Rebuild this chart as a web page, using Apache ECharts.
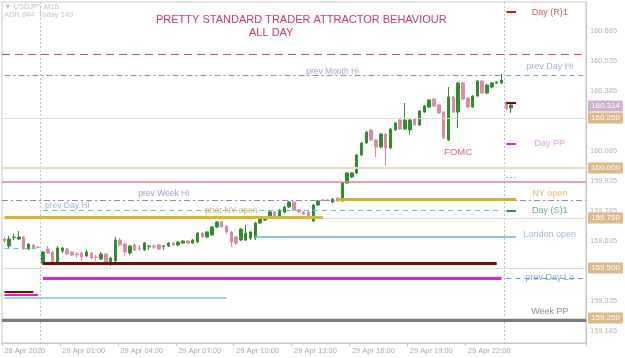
<!DOCTYPE html>
<html>
<head>
<meta charset="utf-8">
<script src="https://cdn.jsdelivr.net/npm/echarts@6/dist/echarts.min.js"></script>
<style>
  html, body { margin: 0; padding: 0; background: #fff; }
  #main { width: 625px; height: 358px; }
</style>
</head>
<body>
<div id="main"></div>
<script>
// USDJPY M15, 28 Apr 22:00 -> 30 Apr 00:15 (one bar per category)
const opens = [
  159.645, 159.61, 159.652, 159.645, 159.655, 159.595, 159.615, 159.605,
  159.525, 159.595, 159.58, 159.53, 159.585, 159.595, 159.58, 159.57,
  159.575, 159.56, 159.575, 159.555, 159.545, 159.57, 159.525, 159.535,
  159.64, 159.62, 159.575, 159.615, 159.60, 159.59, 159.607, 159.61,
  159.615, 159.607, 159.61, 159.625, 159.615, 159.625, 159.635, 159.625,
  159.63, 159.675, 159.655, 159.665, 159.705, 159.73, 159.71, 159.68,
  159.655, 159.64, 159.64, 159.65, 159.65, 159.725, 159.74, 159.75,
  159.78, 159.755, 159.78, 159.805, 159.83, 159.79, 159.78, 159.78,
  159.735, 159.815, 159.84, 159.84, 159.83, 159.85, 159.835, 159.925,
  159.955, 159.975, 160.065, 160.125, 160.19, 160.14, 160.105, 160.17,
  160.10, 160.19, 160.24, 160.195, 160.19, 160.245, 160.215, 160.28,
  160.305, 160.345, 160.315, 160.28, 160.14, 160.355, 160.28, 160.425,
  160.35, 160.305, 160.36, 160.435, 160.375, 160.405, 160.425, 160.425,
  160.33, 160.30
]
const closes = [
  159.635, 159.645, 159.655, 159.655, 159.595, 159.62, 159.60, 159.602,
  159.58, 159.575, 159.53, 159.60, 159.60, 159.57, 159.565, 159.567,
  159.555, 159.58, 159.55, 159.552, 159.57, 159.53, 159.55, 159.64,
  159.615, 159.58, 159.61, 159.59, 159.597, 159.625, 159.61, 159.605,
  159.595, 159.61, 159.625, 159.615, 159.63, 159.635, 159.625, 159.64,
  159.675, 159.655, 159.68, 159.705, 159.73, 159.705, 159.68, 159.63,
  159.625, 159.695, 159.675, 159.68, 159.725, 159.75, 159.755, 159.78,
  159.76, 159.79, 159.805, 159.83, 159.79, 159.78, 159.77, 159.75,
  159.815, 159.835, 159.838, 159.838, 159.845, 159.835, 159.925, 159.975,
  159.975, 160.065, 160.125, 160.18, 160.14, 160.105, 160.17, 160.10,
  160.195, 160.225, 160.195, 160.24, 160.24, 160.215, 160.285, 160.31,
  160.34, 160.31, 160.275, 160.15, 160.355, 160.28, 160.425, 160.345,
  160.305, 160.36, 160.435, 160.375, 160.415, 160.425, 160.43, 160.44,
  160.295, 160.315
]
const lows = [
  159.625, 159.60, 159.64, 159.64, 159.59, 159.59, 159.595, 159.60,
  159.515, 159.57, 159.515, 159.515, 159.575, 159.565, 159.56, 159.55,
  159.535, 159.555, 159.545, 159.535, 159.54, 159.52, 159.51, 159.53,
  159.61, 159.56, 159.565, 159.585, 159.585, 159.585, 159.59, 159.595,
  159.59, 159.59, 159.605, 159.61, 159.61, 159.62, 159.62, 159.62,
  159.625, 159.65, 159.65, 159.66, 159.70, 159.70, 159.67, 159.605,
  159.615, 159.635, 159.635, 159.64, 159.64, 159.72, 159.735, 159.745,
  159.755, 159.75, 159.775, 159.80, 159.785, 159.775, 159.765, 159.74,
  159.73, 159.81, 159.83, 159.835, 159.825, 159.83, 159.83, 159.92,
  159.95, 159.97, 160.06, 160.12, 160.135, 160.055, 160.10, 160.01,
  160.095, 160.185, 160.19, 160.19, 160.165, 160.21, 160.21, 160.275,
  160.30, 160.305, 160.27, 160.145, 160.135, 160.275, 160.20, 160.34,
  160.30, 160.30, 160.355, 160.37, 160.37, 160.40, 160.42, 160.42,
  160.29, 160.275
]
const highs = [
  159.655, 159.66, 159.67, 159.685, 159.66, 159.625, 159.62, 159.61,
  159.585, 159.61, 159.59, 159.61, 159.605, 159.60, 159.585, 159.58,
  159.58, 159.59, 159.58, 159.565, 159.58, 159.575, 159.555, 159.655,
  159.65, 159.63, 159.615, 159.625, 159.615, 159.63, 159.615, 159.62,
  159.62, 159.615, 159.63, 159.63, 159.635, 159.64, 159.64, 159.645,
  159.68, 159.68, 159.685, 159.71, 159.735, 159.735, 159.715, 159.685,
  159.66, 159.70, 159.715, 159.685, 159.73, 159.755, 159.76, 159.785,
  159.785, 159.795, 159.81, 159.835, 159.835, 159.795, 159.785, 159.785,
  159.82, 159.84, 159.845, 159.845, 159.85, 159.855, 159.93, 159.98,
  159.98, 160.07, 160.13, 160.185, 160.195, 160.145, 160.175, 160.175,
  160.20, 160.23, 160.245, 160.325, 160.245, 160.25, 160.29, 160.315,
  160.345, 160.35, 160.32, 160.285, 160.405, 160.36, 160.43, 160.43,
  160.355, 160.365, 160.44, 160.44, 160.42, 160.43, 160.435, 160.47,
  160.335, 160.325
]

// the chart keeps 15 empty bars on the right (shift)
const barCount = 121
const pad = (n) => (n < 10 ? '0' : '') + n
const categories = []
for (let i = 0; i < barCount; i++) {
  const m = 22 * 60 + i * 15
  const mm = m % 1440
  categories.push((28 + Math.floor(m / 1440)) + ' Apr ' + pad(Math.floor(mm / 60)) + ':' + pad(mm % 60))
}
const firstTickLabel = '28 Apr 2020'

const yLabels = [159.185, 159.335, 159.635, 159.785, 159.935, 160.085, 160.385, 160.535, 160.685]
const priceTags = [160.25, 160.0, 159.75, 159.5, 159.25]
const lastPrice = 160.314

// [key, price, first bar, last bar]  null = whole width
const levels = [
  ['redDash', 160.575, null, null],
  ['khaki', 160.25, null, null],
  ['khaki2', 160.0, null, null],
  ['salmon', 159.925, null, null],
  ['prevWeekHi', 159.84, null, null],
  ['khaki', 159.75, null, null],
  ['khaki', 159.5, null, null],
  ['khaki', 159.25, null, null],
  ['weekPP', 159.243, null, null],
  ['dayR1', 160.78, 104, 106],
  ['prevMonthHi', 160.465, 0, 103],
  ['prevDayHiNew', 160.465, 104, 120],
  ['lastMark', 160.325, 104, 106],
  ['dayPP', 160.12, 104, 106],
  ['dotGray', 159.955, 104, 106],
  ['nyOpen', 159.842, 69, 106],
  ['prevDayHi', 159.79, 8, 103],
  ['dayS1', 159.785, 104, 106],
  ['priorNyOpen', 159.752, 0, 66],
  ['londonOpen', 159.655, 52, 106],
  ['maroon', 159.525, 8, 102],
  ['magenta', 159.45, 8, 103],
  ['prevDayLo', 159.45, 104, 120],
  ['prevDayHi', 159.60, 0, 7],
  ['maroonOld', 159.38, 0, 6],
  ['magentaOld', 159.367, 0, 7],
  ['londonOld', 159.352, 0, 46]
]

const levelStyle = {
  redDash: { color: '#d2456a', width: 1, type: [8, 5] },
  khaki: { color: '#e4dfc2', width: 1, type: 'solid' },
  khaki2: { color: '#e4dfc2', width: 2, type: 'solid' },
  salmon: { color: '#e2838a', width: 1.5, type: 'solid' },
  prevWeekHi: { color: '#a77ac8', width: 1, type: [6, 3, 2, 3] },
  weekPP: { color: '#7a7a7a', width: 3, type: 'solid' },
  dayR1: { color: '#d01818', width: 2, type: 'solid' },
  prevMonthHi: { color: '#8c8c9c', width: 1, type: [6, 3, 2, 3] },
  prevDayHiNew: { color: '#48b8c8', width: 1, type: [5, 4] },
  lastMark: { color: '#8b0000', width: 2, type: 'solid' },
  dayPP: { color: '#e020d0', width: 2, type: 'solid' },
  dotGray: { color: '#aaaaaa', width: 1, type: [2, 2] },
  nyOpen: { color: '#d4b030', width: 3, type: 'solid' },
  prevDayHi: { color: '#5cc8c8', width: 1, type: [5, 4] },
  dayS1: { color: '#2a8a70', width: 2, type: 'solid' },
  priorNyOpen: { color: '#d8b440', width: 3, type: 'solid' },
  londonOpen: { color: '#86c6e6', width: 2, type: 'solid' },
  maroon: { color: '#7a0a0a', width: 3, type: 'solid' },
  magenta: { color: '#e01ee0', width: 3, type: 'solid' },
  prevDayLo: { color: '#58a0d8', width: 1, type: [5, 4] },
  maroonOld: { color: '#7a0a0a', width: 2, type: 'solid' },
  magentaOld: { color: '#e01ee0', width: 2, type: 'solid' },
  londonOld: { color: '#9cd0ea', width: 2, type: 'solid' }
}

// text notes: name, bar, price
const noteNames = ['prev Month Hi', 'prev Week Hi', 'prev Day Hi', 'prior NY open', 'FOMC',
  'Day (R)1', 'prev Day Hi ', 'Day PP', 'NY open', 'Day (S)1', 'London open', 'prev Day Lo', 'Week PP']
const noteBars = [68, 33, 13, 47, 94, 113, 113, 113, 113, 113, 113, 113, 113]
const notePrices = [160.48, 159.87, 159.81, 159.785, 160.08,
  160.775, 160.505, 160.12, 159.87, 159.785, 159.665, 159.45, 159.28]

const noteColor = {
  'prev Month Hi': '#8c8cc0', 'prev Week Hi': '#9080c0', 'prev Day Hi': '#7fa8d8',
  'prior NY open': '#c8a040', 'FOMC': '#c83c64', 'Day (R)1': '#d03030',
  'prev Day Hi ': '#80a0d0', 'Day PP': '#d880d8', 'NY open': '#d0b040',
  'Day (S)1': '#3a9a78', 'London open': '#80a8d8', 'prev Day Lo': '#6090d0', 'Week PP': '#707070'
}

const font = 'Liberation Sans, Arial, sans-serif'

const markData = []
levels.forEach(([key, price, a, b]) => {
  const ls = levelStyle[key]
  if (a === null) {
    markData.push({ yAxis: price, lineStyle: ls })
  } else {
    markData.push([{ coord: [a, price], lineStyle: ls }, { coord: [b, price] }])
  }
})
const tagLabel = (bg, text) => ({
  show: true, position: 'end', distance: 2, color: '#fff', backgroundColor: bg,
  fontSize: 8, fontFamily: font, padding: [2, 3, 1, 3], formatter: text
})
priceTags.forEach((p) => {
  markData.push({ yAxis: p, lineStyle: { color: 'transparent', width: 1 }, label: tagLabel('#dcb88a', p.toFixed(3)) })
})
markData.push({ yAxis: lastPrice, lineStyle: { color: 'transparent', width: 1 }, label: tagLabel('#cdb2cd', lastPrice.toFixed(3)) })

const option = {
  animation: false,
  title: [
    { text: 'PRETTY STANDARD TRADER ATTRACTOR BEHAVIOUR', left: 156, top: 14, padding: 0,
      textStyle: { color: '#c83c5f', fontSize: 11, fontWeight: 'normal', fontFamily: font } },
    { text: 'ALL DAY', left: 249, top: 27, padding: 0,
      textStyle: { color: '#c83c5f', fontSize: 11, fontWeight: 'normal', fontFamily: font } },
    { text: '▼ USDJPY,M15', left: 4, top: 3, padding: 0,
      textStyle: { color: '#c4c4c4', fontSize: 7.5, fontWeight: 'normal', fontFamily: font } },
    { text: 'ADR 844  Today 149', left: 4, top: 11, padding: 0,
      textStyle: { color: '#c4c4c4', fontSize: 7.5, fontWeight: 'normal', fontFamily: font } }
  ],
  grid: { left: 2, right: 39, top: 2, bottom: 15, show: true, borderColor: '#c8c8c8', borderWidth: 1 },
  xAxis: {
    type: 'category',
    data: categories,
    boundaryGap: true,
    axisLine: { show: true, lineStyle: { color: '#c8c8c8' } },
    axisTick: {
      show: true, length: 3, lineStyle: { color: '#c0c0c0' },
      interval: (i) => i % 12 === 0 && i < opens.length
    },
    axisLabel: {
      interval: (i) => i % 12 === 0 && i < opens.length,
      formatter: (v, i) => (i === 0 ? firstTickLabel : v),
      align: 'left', color: '#a8a8a8', fontSize: 7.5, fontFamily: font, margin: 4
    },
    splitLine: {
      show: true,
      interval: (i, v) => v.slice(-5) === '00:00',
      lineStyle: { color: '#c4c4c4', type: [2, 2] }
    }
  },
  yAxis: {
    type: 'value',
    position: 'right',
    min: 159.125,
    max: 160.83,
    axisLine: { show: true, lineStyle: { color: '#c8c8c8' } },
    axisTick: { show: false },
    splitLine: { show: false },
    axisLabel: {
      customValues: yLabels,
      formatter: (v) => v.toFixed(3),
      color: '#b4b4b4', fontSize: 7.5, fontFamily: font, margin: 4
    }
  },
  series: [
    {
      type: 'candlestick',
      data: opens.map((o, i) => [o, closes[i], lows[i], highs[i]]),
      barWidth: 3,
      itemStyle: {
        color: '#2f8f2f', color0: '#dc8aa6',
        borderColor: '#2f8f2f', borderColor0: '#dc8aa6', borderWidth: 1
      },
      markLine: {
        silent: true,
        symbol: ['none', 'none'],
        label: { show: false },
        data: markData
      },
      z: 3
    },
    {
      type: 'scatter',
      silent: true,
      symbolSize: 1,
      itemStyle: { color: 'transparent' },
      label: {
        show: true, position: 'inside', formatter: (p) => p.name.trim(),
        fontSize: 8.5, fontFamily: font
      },
      data: noteNames.map((n, i) => ({
        name: n,
        value: [noteBars[i], notePrices[i]],
        label: { color: noteColor[n], fontSize: n === 'FOMC' ? 9.5 : (i >= 5 ? 9 : 8.5) }
      })),
      z: 4
    }
  ]
}

const chart = echarts.init(document.getElementById('main'))
chart.setOption(option)
</script>
</body>
</html>
